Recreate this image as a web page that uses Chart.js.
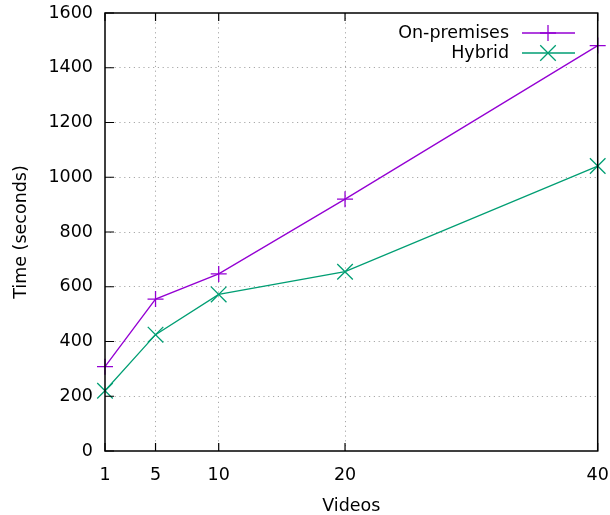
<!DOCTYPE html>
<html>
<head>
<meta charset="utf-8">
<script src="https://cdn.jsdelivr.net/npm/chart.js@4/dist/chart.umd.min.js"></script>
<style>
  html, body { margin: 0; padding: 0; background: #fff; }
</style>
</head>
<body>
<canvas id="chart" width="610" height="515"></canvas>
<script>
const videos = [1, 5, 10, 20, 40];
const onPremises = [308, 555, 647, 920, 1481];
const hybrid = [220, 425, 572, 655, 1041];
const xTicks = [1, 5, 10, 20, 40];
const seriesNames = ['On-premises', 'Hybrid'];

const FONT = 'DejaVu Sans';
const FSIZE = 17.5;

// gnuplot-like frame, inward ticks and legend
const framePlugin = {
  id: 'frame',
  afterDraw(chart) {
    const ctx = chart.ctx;
    const a = chart.chartArea;
    const x = chart.scales.x, y = chart.scales.y;
    ctx.save();
    ctx.strokeStyle = '#000';
    ctx.lineWidth = 1.5;
    ctx.strokeRect(a.left, a.top, a.right - a.left, a.bottom - a.top);
    ctx.lineWidth = 1.2;
    ctx.beginPath();
    y.ticks.forEach(t => {
      const py = y.getPixelForValue(t.value);
      ctx.moveTo(a.left, py); ctx.lineTo(a.left + 9, py);
    });
    x.ticks.forEach(t => {
      const px = x.getPixelForValue(t.value);
      ctx.moveTo(px, a.bottom); ctx.lineTo(px, a.bottom - 8);
      ctx.moveTo(px, a.top); ctx.lineTo(px, a.top + 8);
    });
    ctx.stroke();

    // legend: text then sample
    ctx.font = FSIZE + 'px "' + FONT + '"';
    ctx.textAlign = 'right';
    ctx.textBaseline = 'middle';
    chart.data.datasets.forEach((ds, i) => {
      const ly = 33 + i * 20;
      ctx.fillStyle = '#000';
      ctx.fillText(ds.label, 509, ly);
      ctx.strokeStyle = ds.borderColor;
      ctx.lineWidth = 1.3;
      ctx.beginPath();
      ctx.moveTo(522, ly); ctx.lineTo(575, ly);
      ctx.stroke();
      Chart.helpers.drawPoint(ctx, {
        pointStyle: ds.pointStyle, radius: ds.pointRadius, borderWidth: 1.3
      }, 548, ly);
    });
    ctx.restore();
  }
};

const gridColor = (ctx, edges) => edges.includes(ctx.tick.value) ? 'rgba(0,0,0,0)' : '#a8a8a8';
const noPad = s => { s.paddingTop = 0; s.paddingBottom = 0; s.paddingLeft = 0; s.paddingRight = 0; };

new Chart(document.getElementById('chart'), {
  type: 'line',
  data: {
    datasets: [
      {
        label: seriesNames[0],
        data: videos.map((v, i) => ({ x: v, y: onPremises[i] })),
        borderColor: '#9400d3',
        backgroundColor: '#9400d3',
        borderWidth: 1.3,
        pointStyle: 'cross',
        pointRadius: 8,
        pointBorderWidth: 1.3,
        clip: false
      },
      {
        label: seriesNames[1],
        data: videos.map((v, i) => ({ x: v, y: hybrid[i] })),
        borderColor: '#009e73',
        backgroundColor: '#009e73',
        borderWidth: 1.3,
        pointStyle: 'crossRot',
        pointRadius: 11,
        pointBorderWidth: 1.3,
        clip: false
      }
    ]
  },
  options: {
    responsive: false,
    animation: false,
    layout: { padding: { top: 13, right: 12, left: 0, bottom: 0 } },
    plugins: { legend: { display: false }, tooltip: { enabled: false } },
    scales: {
      x: {
        type: 'linear',
        min: 1,
        max: 40,
        afterBuildTicks: s => { s.ticks = xTicks.map(v => ({ value: v })); },
        afterFit: s => { s.height = 64; noPad(s); },
        border: { display: false, dash: [1.2, 3.6] },
        grid: {
          drawTicks: false,
          color: c => gridColor(c, [1, 40]),
          lineWidth: 1
        },
        ticks: {
          padding: 14,
          color: '#000',
          maxRotation: 0,
          callback: v => String(v),
          font: { family: FONT, size: FSIZE }
        },
        title: {
          display: true,
          text: 'Videos',
          color: '#000',
          font: { family: FONT, size: FSIZE },
          padding: { top: 0, bottom: -2 }
        }
      },
      y: {
        min: 0,
        max: 1600,
        afterFit: s => { s.width = 105; noPad(s); },
        border: { display: false, dash: [1.2, 3.6] },
        grid: {
          drawTicks: false,
          color: c => gridColor(c, [0, 1600]),
          lineWidth: 1
        },
        ticks: {
          stepSize: 200,
          padding: 12,
          color: '#000',
          callback: v => String(v),
          font: { family: FONT, size: FSIZE }
        },
        title: {
          display: true,
          text: 'Time (seconds)',
          color: '#000',
          font: { family: FONT, size: FSIZE },
          padding: { top: 11, bottom: 0 }
        }
      }
    }
  },
  plugins: [framePlugin]
});
</script>
</body>
</html>
